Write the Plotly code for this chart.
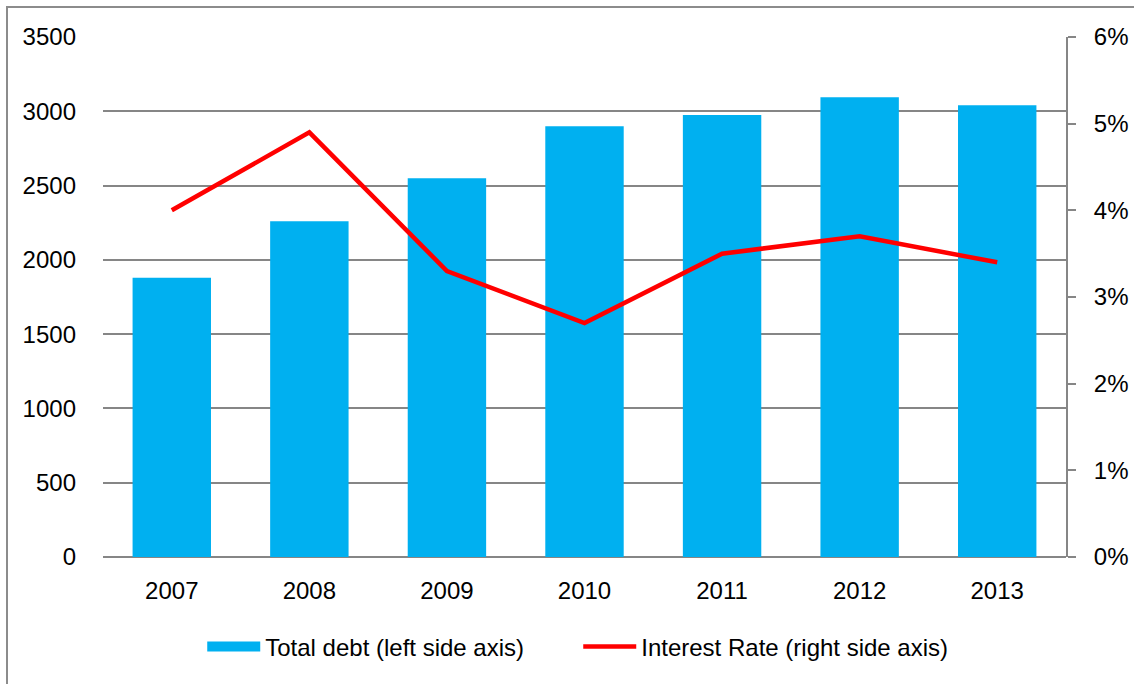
import plotly.graph_objects as go

years = ["2007", "2008", "2009", "2010", "2011", "2012", "2013"]
total_debt = [1880, 2260, 2550, 2900, 2975, 3095, 3040]
interest_rate = [0.040, 0.049, 0.033, 0.027, 0.035, 0.037, 0.034]

FONT = "Liberation Sans"
GRAY = "#868686"
BLUE = "#00B0F0"
RED = "#FF0000"

fig = go.Figure()
fig.add_trace(go.Bar(
    x=years, y=total_debt, name="Total debt (left side axis)",
    marker=dict(color=BLUE, line=dict(width=0)), width=0.57, yaxis="y",
    showlegend=False, legendgroup="debt"))
# legend-only entry giving the wide blue swatch
fig.add_trace(go.Scatter(
    x=[None], y=[None], name="Total debt (left side axis)", mode="lines",
    line=dict(color=BLUE, width=16), legendgroup="debt", yaxis="y"))
fig.add_trace(go.Scatter(
    x=years, y=interest_rate, name="Interest Rate (right side axis)",
    mode="lines", line=dict(color=RED, width=4.5), yaxis="y2"))

fig.update_layout(
    width=1134, height=684,
    margin=dict(l=103, r=68, t=37, b=127),
    paper_bgcolor="white", plot_bgcolor="white",
    font=dict(family=FONT, size=24, color="#000000"),
    showlegend=True,
    legend=dict(orientation="h", x=0.4935, xanchor="center", y=-0.173, yanchor="middle",
                font=dict(family=FONT, size=24), traceorder="normal",
                itemwidth=53, entrywidth=308, entrywidthmode="pixels"),
    xaxis=dict(showgrid=False, showline=False, ticks="", tickfont=dict(size=24),
               ticklabelstandoff=17, zeroline=False, automargin=False),
    yaxis=dict(range=[0, 3500], dtick=500, showgrid=True, gridcolor=GRAY, gridwidth=1.5,
               zeroline=True, zerolinecolor=GRAY, zerolinewidth=2, automargin=False,
               showline=False, ticks="", tickfont=dict(size=24), ticklabelstandoff=26),
    yaxis2=dict(range=[0, 0.06], dtick=0.01, tickformat=".0%", overlaying="y", side="right",
                showgrid=False, zeroline=False, showline=True, linecolor=GRAY, linewidth=2,
                ticks="outside", ticklen=8, tickcolor=GRAY, tickwidth=1.5, automargin=False,
                tickfont=dict(size=24), ticklabelstandoff=13),
    shapes=[dict(type="rect", xref="paper", yref="paper",
                 x0=(7 - 103) / 963, x1=1.2, y0=-0.5, y1=1 + 30 / 520,
                 line=dict(color="#8c8c8c", width=2), fillcolor="rgba(0,0,0,0)", layer="below")],
)

fig.write_html("out.html", config={"displayModeBar": False},
               post_script="document.body.style.margin='0';")
